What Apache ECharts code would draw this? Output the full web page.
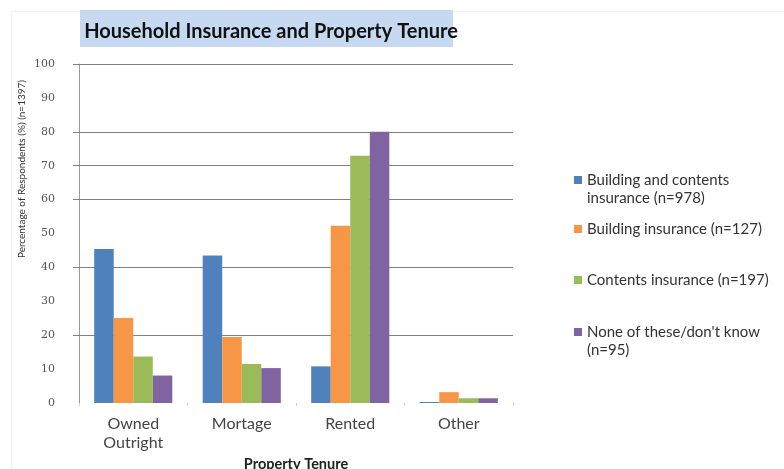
<!DOCTYPE html>
<html>
<head>
<meta charset="utf-8">
<script src="https://cdn.jsdelivr.net/npm/echarts@6/dist/echarts.min.js"></script>
<style>
  html, body { margin: 0; padding: 0; background: #fff; }
  #chart { width: 784px; height: 469px; }
</style>
</head>
<body>
<div id="chart"></div>
<script>
// Property tenure categories along the x axis
const categories = ['Owned\nOutright', 'Mortage', 'Rented', 'Other'];

// Insurance groups (legend entries)
const seriesNames = [
  'Building and contents\ninsurance (n=978)',
  'Building insurance (n=127)',
  'Contents insurance (n=197)',
  'None of these/don\'t know\n(n=95)'
];

// Percentage of respondents per tenure, one array per insurance group
const buildingAndContents = [45.4, 43.5, 10.8, 0.3];
const buildingOnly        = [25.1, 19.5, 52.3, 3.2];
const contentsOnly        = [13.7, 11.5, 72.9, 1.4];
const noneOrDontKnow      = [8.1, 10.3, 80.0, 1.4];

// Y axis tick labels and the horizontal guide lines drawn across the plot
const yTicks = [0, 10, 20, 30, 40, 50, 60, 70, 80, 90, 100];
const guideValues = [20, 40, 60, 70, 80, 100];

const colors = ['#4F81BD', '#F79646', '#9BBB59', '#8064A2'];
const values = [buildingAndContents, buildingOnly, contentsOnly, noneOrDontKnow];

const FONT = 'Lato, "Open Sans", sans-serif';

const chart = echarts.init(document.getElementById('chart'), null, { renderer: 'canvas' });

// Two-line legend entries: a tall icon box whose visible square sits on the first line
const tallIcon = 'path://M0,0L8,0L8,8L0,8Z M0,26L0,26';
const legendTops = [166, 215, 266, 318];

const series = values.map((data, i) => ({
  name: seriesNames[i],
  type: 'bar',
  data: data,
  barGap: '0%',
  barCategoryGap: '28%',
  itemStyle: { color: colors[i] },
  z: 3,
  markLine: i === 0 ? {
    silent: true,
    symbol: ['none', 'none'],
    label: { show: false },
    lineStyle: { color: '#808080', width: 1, type: 'solid' },
    z: 1,
    animation: false,
    data: guideValues.map(v => ({ yAxis: v }))
  } : undefined
}));

const option = {
  backgroundColor: '#ffffff',
  animation: false,
  title: {
    text: 'Household Insurance and Property Tenure',
    left: 266,
    top: 17,
    textAlign: 'center',
    textStyle: {
      fontFamily: FONT,
      fontWeight: 'bold',
      fontSize: 20,
      color: '#111'
    }
  },
  legend: legendTops.map((t, i) => {
    const twoLine = (i === 0 || i === 3);
    return {
      data: [seriesNames[i]],
      left: 569,
      top: t,
      itemWidth: 8,
      itemHeight: twoLine ? 26 : 8,
      icon: twoLine ? tallIcon : 'rect',
      selectedMode: false,
      textStyle: {
        fontFamily: FONT,
        fontSize: 15,
        color: '#333',
        lineHeight: 18
      }
    };
  }),
  grid: {
    left: 79,
    right: 271,
    top: 64,
    bottom: 66,
    containLabel: false,
    outerBoundsMode: 'none'
  },
  xAxis: {
    type: 'category',
    data: categories,
    name: 'Property Tenure',
    nameLocation: 'middle',
    nameGap: 50,
    nameTextStyle: {
      fontFamily: FONT,
      fontWeight: 'bold',
      fontSize: 14.5,
      color: '#222'
    },
    axisLine: { show: false },
    axisTick: { show: true, length: 3, lineStyle: { color: '#d0d0d0' } },
    axisLabel: {
      margin: 11,
      fontFamily: FONT,
      fontSize: 16,
      lineHeight: 19,
      color: '#444'
    }
  },
  yAxis: {
    type: 'value',
    min: 0,
    max: 100,
    interval: 10,
    axisLine: { show: true, lineStyle: { color: '#9a9a9a', width: 1 } },
    axisTick: {
      show: true,
      length: 6,
      customValues: guideValues,
      lineStyle: { color: '#808080' }
    },
    splitLine: { show: false },
    axisLabel: {
      customValues: yTicks,
      margin: 24,
      fontFamily: '"DejaVu Serif", serif',
      fontSize: 11,
      color: '#555'
    }
  },
  graphic: [
    {
      type: 'rect',
      z: -1,
      shape: { x: 80, y: 10, width: 373, height: 37 },
      style: { fill: '#C6D9F1' }
    },
    {
      type: 'rect',
      z: -2,
      shape: { x: 11.5, y: 11.5, width: 800, height: 500 },
      style: { fill: 'none', stroke: '#f0f0f0', lineWidth: 1 }
    },
    {
      type: 'text',
      left: 17,
      top: 80,
      rotation: Math.PI / 2,
      style: {
        text: 'Percentage of Respondents (%) (n=1397)',
        fontFamily: FONT,
        fontSize: 10,
        fill: '#333'
      }
    }
  ],
  series: series
};

chart.setOption(option);
</script>
</body>
</html>
